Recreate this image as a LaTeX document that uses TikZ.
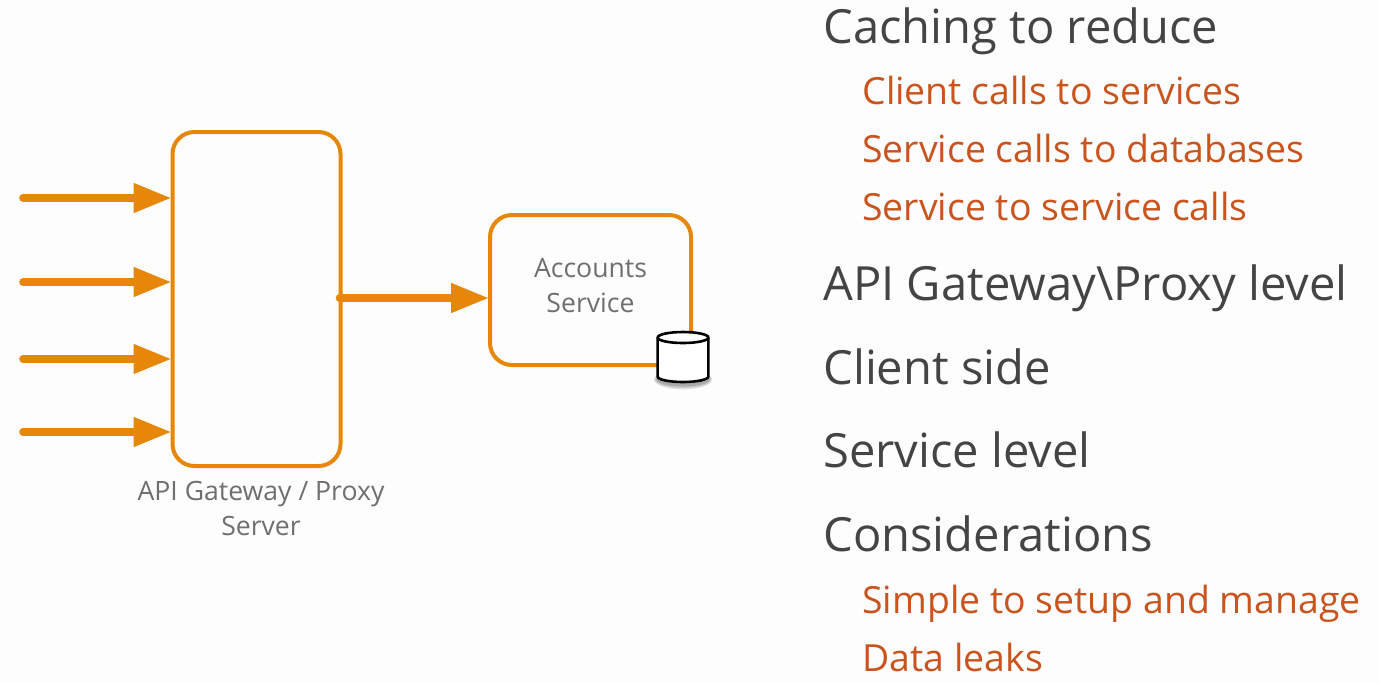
\documentclass[tikz,border=0pt]{standalone}
\usepackage{fontspec}
\setmainfont{Open Sans}
\usetikzlibrary{arrows.meta}
\definecolor{bgc}{HTML}{FDFDFD}
\definecolor{orng}{HTML}{E7870A}
\definecolor{head}{HTML}{444444}
\definecolor{sub}{HTML}{C9541E}
\definecolor{lab}{HTML}{6F6F6F}
\tikzset{
  box/.style={draw=orng,line width=2pt,rounded corners=11pt,fill=bgc,inner sep=0pt},
  flow/.style={draw=orng,line width=3.8pt,line cap=round,-{Triangle[length=19pt,width=14pt,fill=orng]},shorten >=-0.5pt},
  h1/.style={anchor=base west,inner sep=0pt,text=head,font=\fontsize{23.55}{26}\selectfont},
  h2/.style={anchor=base west,inner sep=0pt,text=sub,font=\fontsize{18.7}{22}\selectfont},
  lbl/.style={align=center,inner sep=0pt,text=lab,font=\fontsize{13.3}{17.5}\selectfont},
  dbline/.style={draw=black,line width=1.3pt}
}
\begin{document}
\begin{tikzpicture}[x=0.5pt,y=-0.5pt]
\useasboundingbox[fill=bgc] (0,0) rectangle (1379,682);
\node[box,minimum width=84pt,minimum height=167pt] (gw) at (256.5,299) {};
\node[box,minimum width=100.5pt,minimum height=75pt] (acc) at (590.5,290) {};
\node[lbl] (acct) at (590.5,286) {Accounts\\Service};
\node[lbl] (gwt) at (261,508) {API Gateway / Proxy\\Server};
% database
\coordinate (dbt) at (683,337.5);
\coordinate (dbb) at (683,376.5);
\foreach \o/\s in {.10/4.5,.12/3,.15/1.5}{
  \fill[black,opacity=\o] ([yshift=-1.5pt]dbb) ellipse[x radius=12.8pt+\s*0.4pt,y radius=2.75pt+\s*0.5pt];
}
\path[fill=white,dbline] ([xshift=-12.7pt]dbt) -- ([xshift=-12.7pt]dbb)
  arc[start angle=180,end angle=360,x radius=12.7pt,y radius=2.75pt]
  -- ([xshift=12.7pt]dbt)
  arc[start angle=0,end angle=180,x radius=12.7pt,y radius=2.75pt] -- cycle;
\draw[dbline] ([xshift=-12.7pt]dbt) arc[start angle=180,end angle=360,x radius=12.7pt,y radius=2.75pt];
\foreach \n/\y in {a/198,b/282,c/359,d/432}{
  \coordinate (\n) at (23,\y);
  \draw[flow] (\n) -- (gw.west |- \n);
}
\draw[flow] ([xshift=-1.5pt,yshift=0.5pt]gw.east) -- ([yshift=0.5pt]gw.east -| acc.west);
\node[h1] (t1) at (823,43) {Caching to reduce};
\node[h2] (t2) at (862,104) {Client calls to services};
\node[h2] (t3) at (862,162) {Service calls to databases};
\node[h2] (t4) at (862,220) {Service to service calls};
\node[h1] (t5) at (823,300) {API Gateway\textbackslash Proxy level};
\node[h1] (t6) at (823,384) {Client side};
\node[h1] (t7) at (823,467) {Service level};
\node[h1] (t8) at (823,551) {Considerations};
\node[h2] (t9) at (862,613) {Simple to setup and manage};
\node[h2] (t10) at (862,671) {Data leaks};
\end{tikzpicture}
\end{document}
